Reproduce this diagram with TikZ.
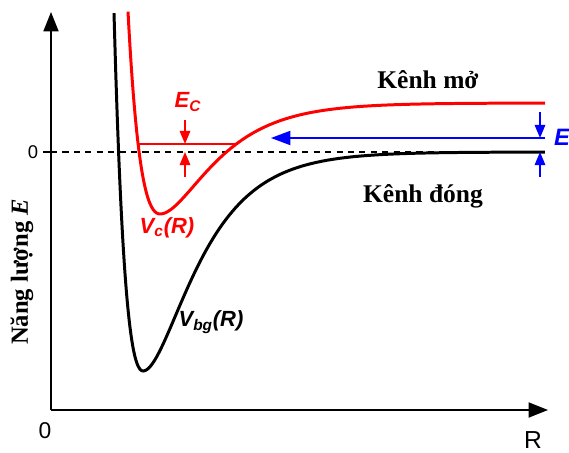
\documentclass[tikz,border=0pt]{standalone}
\usepackage{fontspec}
\setmainfont{Liberation Serif}
\setsansfont{Liberation Sans}
\usetikzlibrary{arrows.meta}

\begin{document}
\begin{tikzpicture}[x=0.02cm, y=-0.02cm,
        every node/.style={inner sep=0pt},
        axis/.style={line width=1.1pt, -{Triangle[length=11pt, width=8.5pt]}},
        curve/.style={line width=1.7pt, samples=250, smooth},
        gap/.style={line width=1pt, -{Triangle[length=7.5pt, width=6pt]}},
        lbl/.style={font=\sffamily\bfseries\itshape\fontsize{12.5}{14}\selectfont},
        chan/.style={font=\bfseries\fontsize{14.5}{16}\selectfont},
        tick/.style={font=\sffamily\fontsize{10.5}{12}\selectfont}
    ]
    \useasboundingbox (0,0) rectangle (569,453);
%
    % Axes
    \coordinate (O) at (51,410);
    \coordinate (ytop) at (51,12);
    \coordinate (xend) at (548,410);
    \draw[axis] (O) -- (ytop);
    \draw[axis] (O) -- (xend);
    \node[tick] (zeroy) at (33,152) {0};
    \node[tick, font=\sffamily\fontsize{13}{15}\selectfont] (zerox) at (45,431) {0};
    \node[tick, font=\sffamily\fontsize{14}{16}\selectfont] (rlabel) at (533,440) {R};
    \node[rotate=90, font=\bfseries\fontsize{14}{16}\selectfont] (ylabel) at (22,272) {Năng lượng \textit{E}};
%
    % Zero level
    \coordinate (ztick) at (43,152);
    \coordinate (zaxis) at (51,152);
    \coordinate (zend) at (545,152);
    \draw[line width=1pt] (ztick) -- (zaxis);
    \draw[line width=0.8pt, dash pattern=on 3.5pt off 3pt] (zaxis) -- (zend);
%
    % Potential curves
    \draw[curve] plot[domain=114:545] (\x, {371 - 219*(1-exp(-(\x<143 ? 0.0284 : 0.0215)*(\x-143)))^2});
    \draw[curve, red] plot[domain=128:545] (\x, {214 - 111*(1-exp(-(\x<160 ? 0.0267 : 0.0207)*(\x-160)))^2});
%
    % Threshold E_C
    \coordinate (ecl) at (138,144);
    \coordinate (ecr) at (236,144);
    \draw[red, line width=0.9pt] (ecl) -- (ecr);
    \coordinate (ectop) at (185,120);
    \coordinate (ecup) at (185,144);
    \coordinate (ecbot) at (185,177);
    \coordinate (eclow) at (185,152);
    \draw[gap, red] (ectop) -- (ecup);
    \draw[gap, red] (ecbot) -- (eclow);
    \node[lbl, red] (ec) at (188,102) {E\textsubscript{C}};
%
    % Incoming energy E
    \coordinate (estart) at (545,138);
    \coordinate (eend) at (271,138);
    \draw[blue, line width=1pt, -{Triangle[length=11pt, width=8pt]}] (estart) -- (eend);
    \coordinate (etop) at (540,112);
    \coordinate (eup) at (540,138);
    \coordinate (ebot) at (540,177);
    \coordinate (elow) at (540,152);
    \draw[gap, blue] (etop) -- (eup);
    \draw[gap, blue] (ebot) -- (elow);
    \node[lbl, blue, font=\sffamily\bfseries\itshape\fontsize{13.5}{15}\selectfont] (elabel) at (562,137) {E};
%
    % Labels
    \node[lbl, red] (vc) at (167,228) {V\textsubscript{c}(R)};
    \node[lbl] (vbg) at (211,322) {V\textsubscript{bg}(R)};
    \node[chan] (open) at (428,80) {Kênh mở};
    \node[chan] (closed) at (423,196) {Kênh đóng};
%
\end{tikzpicture}
\end{document}
